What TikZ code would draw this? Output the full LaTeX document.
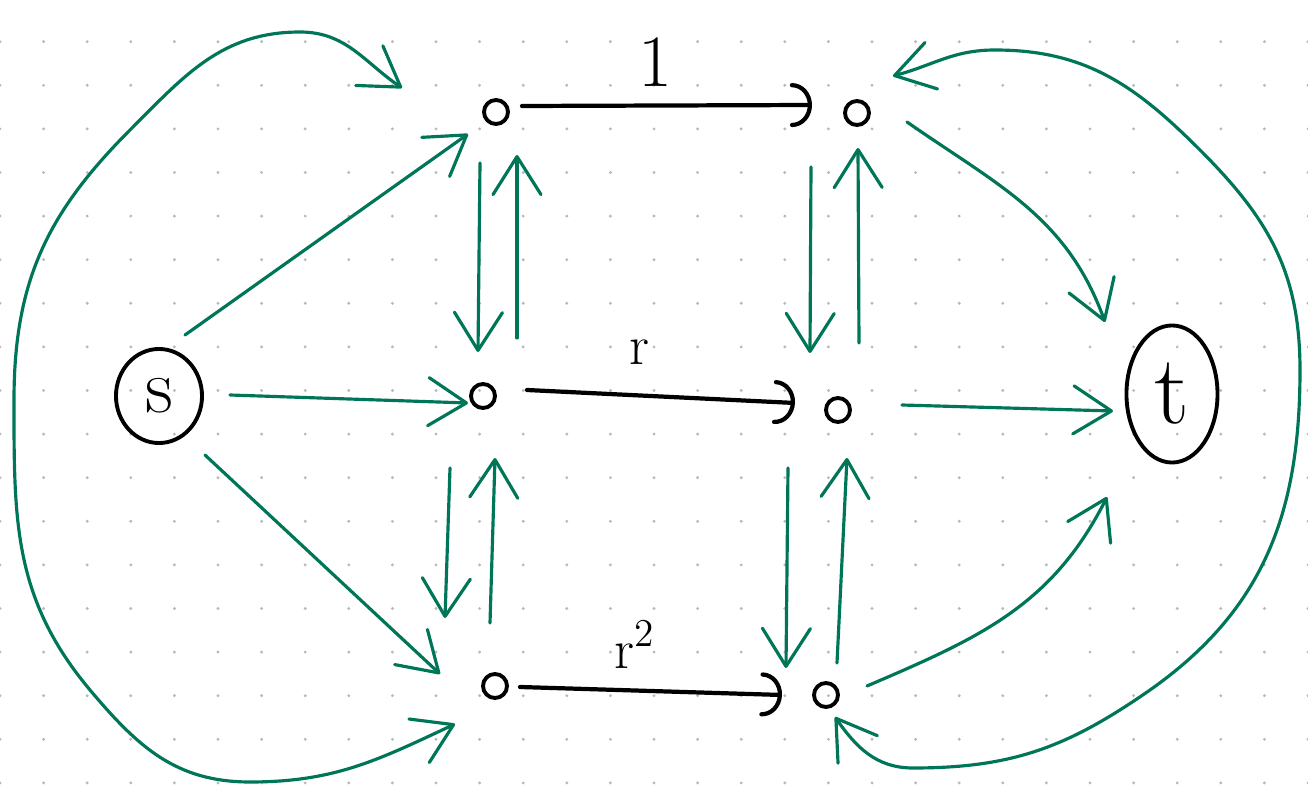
\documentclass[tikz,border=0pt]{standalone}
\usetikzlibrary{arrows.meta,shapes.geometric}
\definecolor{pengreen}{RGB}{0,118,88}
\tikzset{
  vtx/.style={circle,draw,line width=1.1pt,minimum size=0.24cm,inner sep=0pt},
  term/.style={ellipse,draw,line width=1.1pt,inner sep=0pt},
  bedge/.style={draw=black,line width=1.2pt,line cap=round,-{Arc Barb[length=2mm,width=4.4mm,round]}},
  gedge/.style={draw=pengreen,line width=0.9pt,line cap=round,-{Straight Barb[length=3.8mm,width=4.8mm,round]}},
  gloop/.style={draw=pengreen,line width=0.9pt,line cap=round,{Straight Barb[length=3.8mm,width=4.8mm,round]}-{Straight Barb[length=3.8mm,width=4.8mm,round]}},
  lbl/.style={inner sep=0pt,font=\fontsize{16}{19}\selectfont}
}
\begin{document}
\begin{tikzpicture}[x=0.01cm,y=-0.01cm]
\fill[white] (0,0) rectangle (1308,785);
\useasboundingbox (0,0) rectangle (1308,785);
\foreach \i in {0,...,30}
  \foreach \j in {0,...,17}
    \fill[gray!55] (43.6*\i,41.7+43.6*\j) circle[radius=0.16mm];

\node[term,minimum width=0.86cm,minimum height=0.94cm,font=\fontsize{22}{26}\selectfont] (s) at (159,396) {s};
\node[term,minimum width=0.91cm,minimum height=1.37cm,font=\fontsize{28}{32}\selectfont] (t) at (1172,394) {t};
\node[vtx] (a1) at (496,112) {};
\node[vtx] (a2) at (857,113) {};
\node[vtx] (b1) at (483,396) {};
\node[vtx] (b2) at (838,410) {};
\node[vtx] (c1) at (495,686) {};
\node[vtx] (c2) at (826,695) {};

\draw[bedge] ([shift={(26,-6)}]a1.center) -- node[lbl,above=0.17cm,pos=0.46,font=\fontsize{21}{24}\selectfont] {1} ([shift={(-45,-8)}]a2.center);
\draw[bedge] ([shift={(44,-6)}]b1.center) -- node[lbl,above=0.29cm,pos=0.42] {r} ([shift={(-43,-7)}]b2.center);
\draw[bedge] ([shift={(25,1)}]c1.center) -- node[lbl,above=0.2cm,pos=0.44] {r\textsuperscript{2}} ([shift={(-44,0)}]c2.center);

\draw[gedge] ([shift={(26,-61)}]s.center) -- ([shift={(-28,22)}]a1.center);
\draw[gedge] ([shift={(71,-1)}]s.center) -- ([shift={(-15,7)}]b1.center);
\draw[gedge] ([shift={(46,59)}]s.center) -- ([shift={(-55,-12)}]c1.center);

\draw[gedge] ([shift={(-16,51)}]a1.center) -- ([shift={(-5,-44)}]b1.center);
\draw[gedge] ([shift={(34,-58)}]b1.center) -- ([shift={(21,43)}]a1.center);
\draw[gedge] ([shift={(-33,72)}]b1.center) -- ([shift={(-50,-68)}]c1.center);
\draw[gedge] ([shift={(-5,-63)}]c1.center) -- ([shift={(12,62)}]b1.center);
\draw[gedge] ([shift={(-46,54)}]a2.center) -- ([shift={(-28,-57)}]b2.center);
\draw[gedge] ([shift={(21,-67)}]b2.center) -- ([shift={(1,35)}]a2.center);
\draw[gedge] ([shift={(-50,58)}]b2.center) -- ([shift={(-40,-27)}]c2.center);
\draw[gedge] ([shift={(11,-32)}]c2.center) -- ([shift={(9,48)}]b2.center);

\draw[gedge] ([shift={(50,9)}]a2.center) .. controls +(92,64) and +(-38,-105) .. ([shift={(-67,-72)}]t.center);
\draw[gedge] ([shift={(64,-5)}]b2.center) -- ([shift={(-59,17)}]t.center);
\draw[gedge] ([shift={(41,-9)}]c2.center) .. controls +(112,-48) and +(-55,109) .. ([shift={(-65,103)}]t.center);

\draw[gloop] ([shift={(-94,-24)}]a1.center) .. controls (364,62) and (346,32) .. (300,32)
  .. controls (222,32) and (185,75) .. (130,130)
  .. controls (47,213) and (14,282) .. (14,400)
  .. controls (14,520) and (13,598) .. (90,690)
  .. controls (138,747) and (176,782) .. (250,782)
  .. controls (335,782) and (378,760) .. ([shift={(-40,38)}]c1.center);
\draw[gloop] ([shift={(36,-37)}]a2.center) .. controls (934,65) and (953,50) .. (995,50)
  .. controls (1086,50) and (1136,86) .. (1200,150)
  .. controls (1269,219) and (1300,273) .. (1300,370)
  .. controls (1300,511) and (1265,609) .. (1150,690)
  .. controls (1068,747) and (1013,768) .. (913,768)
  .. controls (876,768) and (856,747) .. ([shift={(9,22)}]c2.center);
\end{tikzpicture}
\end{document}
